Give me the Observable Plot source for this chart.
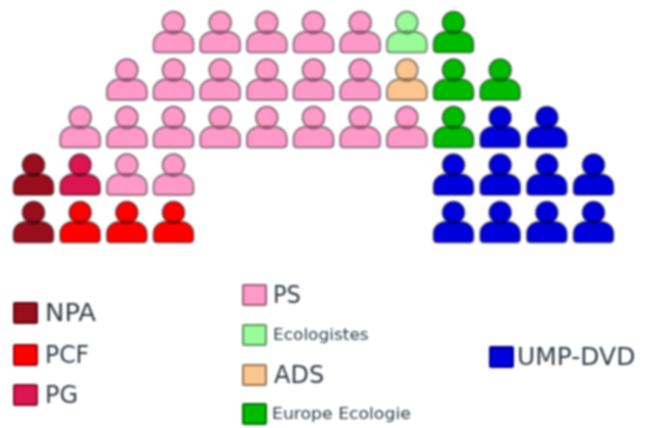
<!DOCTYPE html>
<html><head><meta charset="utf-8">
<script src="https://cdn.jsdelivr.net/npm/d3@7"></script>
<script src="https://cdn.jsdelivr.net/npm/@observablehq/plot@0.6"></script>
<style>
html,body{margin:0;padding:0;background:#fff;overflow:hidden}
#wrap{position:relative;width:652px;height:428px;filter:blur(1px)}
#wrap svg{display:block}
.sw{position:absolute;box-sizing:border-box;border:2px solid rgba(0,0,0,.4);border-radius:2px}
.lb{position:absolute;white-space:nowrap;font-family:"DejaVu Sans",sans-serif;color:#303a44;line-height:1;transform-origin:0 50%}
</style></head><body><div id="wrap"></div>
<script>
const _ = null;
const parties = ["NPA","PCF","PG","PS","Ecologistes","ADS","Europe Ecologie","UMP-DVD"];
const partyColors = ["#990d1c","#ff0000","#dc1450","#ff99c8","#99fb99","#fcc48e","#00bb00","#0000dd"];
const row0 = [_,_,_,"PS","PS","PS","PS","PS","Ecologistes","Europe Ecologie"];
const row1 = [_,_,"PS","PS","PS","PS","PS","PS","ADS","Europe Ecologie","Europe Ecologie"];
const row2 = [_,"PS","PS","PS","PS","PS","PS","PS","PS","Europe Ecologie","UMP-DVD","UMP-DVD"];
const row3 = ["NPA","PG","PS","PS",_,_,_,_,_,"UMP-DVD","UMP-DVD","UMP-DVD","UMP-DVD"];
const row4 = ["NPA","PCF","PCF","PCF",_,_,_,_,_,"UMP-DVD","UMP-DVD","UMP-DVD","UMP-DVD"];
const seats = [row0,row1,row2,row3,row4].flatMap((r,row)=>r.map((party,col)=>({party,col,row})).filter(d=>d.party));

const person = {draw(c,size){
  const k = Math.sqrt(size/Math.PI)/20;
  const p = (x,y)=>[x*k,y*k];
  c.moveTo(...p(11,-10)); c.arc(0,-10*k,11*k,0,2*Math.PI); c.closePath();
  c.moveTo(...p(-20,16)); c.lineTo(...p(-20,11));
  c.bezierCurveTo(...p(-20,3),...p(-13,-1),...p(-6,-1));
  c.lineTo(...p(6,-1));
  c.bezierCurveTo(...p(13,-1),...p(20,3),...p(20,11));
  c.lineTo(...p(20,16)); c.quadraticCurveTo(...p(20,20),...p(16,20));
  c.lineTo(...p(-16,20)); c.quadraticCurveTo(...p(-20,20),...p(-20,16)); c.closePath();
}};

const chart = Plot.plot({
  width:652,height:270,margin:0,
  x:{domain:[0,12],range:[33,593],axis:null},
  y:{domain:[0,4],range:[32,222],axis:null},
  color:{domain:parties,range:partyColors},
  marks:[Plot.dot(seats,{x:"col",y:"row",fill:"party",r:20,symbol:person,stroke:"#000",strokeOpacity:0.42,strokeWidth:2})]
});
const wrap=document.getElementById("wrap");
wrap.appendChild(chart);

const legendNames = ["NPA","PCF","PG","PS","Ecologistes","ADS","Europe Ecologie","UMP-DVD"];
const legendLeft = [13,13,13,242,242,242,242,489];
const legendTop = [302,344,384,284,324,364,403,346];
const legendFont = [24,24,24,24,15,24,15,24];
const legendStretch = [1.08,0.98,1.0,0.94,1.13,1.0,1.15,1.04];
const legendGap = [32,32,32,31,31,32,30,28];
legendNames.forEach((n,i)=>{
  const s=document.createElement("div");s.className="sw";
  s.style.cssText=`left:${legendLeft[i]}px;top:${legendTop[i]}px;width:25px;height:22px;background:${partyColors[parties.indexOf(n)]}`;
  wrap.appendChild(s);
  const t=document.createElement("div");t.className="lb";t.textContent=n;
  t.style.cssText=`left:${legendLeft[i]+legendGap[i]}px;top:${legendTop[i]+11-legendFont[i]/2}px;font-size:${legendFont[i]}px;transform:scaleX(${legendStretch[i]})`;
  wrap.appendChild(t);
});
</script></body></html>
